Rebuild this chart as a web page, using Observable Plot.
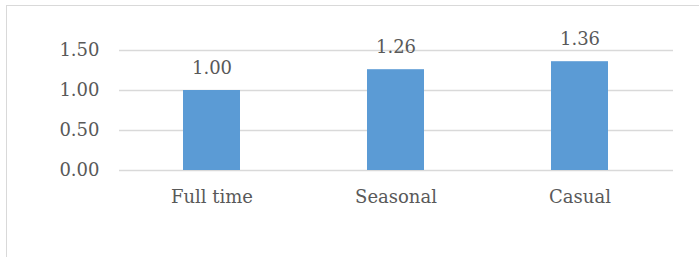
<!DOCTYPE html>
<html>
<head>
<meta charset="utf-8">
<script src="https://cdn.jsdelivr.net/npm/d3@7"></script>
<script src="https://cdn.jsdelivr.net/npm/@observablehq/plot@0.6"></script>
<style>
  html, body { margin: 0; padding: 0; background: #fff; overflow: hidden; }
  #wrap { position: relative; width: 699px; height: 257px; }
  #frame { position: absolute; left: 6px; top: 5px; width: 800px; height: 400px; border: 1px solid #d9d9d9; box-sizing: border-box; }
  #chart { position: absolute; left: 0; top: 0; }
</style>
</head>
<body>
<div id="wrap"><div id="frame"></div><div id="chart"></div></div>
<script>
const categories = ["Full time", "Seasonal", "Casual"];
const values = [1.00, 1.26, 1.36];
const yTicks = [0, 0.5, 1.0, 1.5];

const data = categories.map((c, i) => ({category: c, value: values[i]}));
const font = "'DejaVu Serif', serif";

const chart = Plot.plot({
  width: 699,
  height: 257,
  marginLeft: 119,
  marginRight: 26,
  marginTop: 50,
  marginBottom: 87,
  style: {fontFamily: font, fontSize: "18px", color: "#595959", background: "transparent"},
  x: {domain: categories, paddingInner: 0.69, paddingOuter: 0.345, label: null},
  y: {domain: [0, 1.5], label: null},
  marks: [
    Plot.ruleY(yTicks, {stroke: "#d9d9d9", strokeWidth: 1.5}),
    Plot.axisY({ticks: yTicks, tickFormat: d3.format(".2f"), tickSize: 0, tickPadding: 20, fontSize: 18, fill: "#595959"}),
    Plot.axisX({tickSize: 0, tickPadding: 20, fontSize: 18, fill: "#595959"}),
    Plot.barY(data, {x: "category", y: "value", fill: "#5b9bd5"}),
    Plot.text(data, {x: "category", y: "value", text: d => d3.format(".2f")(d.value), dy: -17, lineAnchor: "bottom", fill: "#595959", fontSize: 18})
  ]
});
document.getElementById("chart").appendChild(chart);
</script>
</body>
</html>
